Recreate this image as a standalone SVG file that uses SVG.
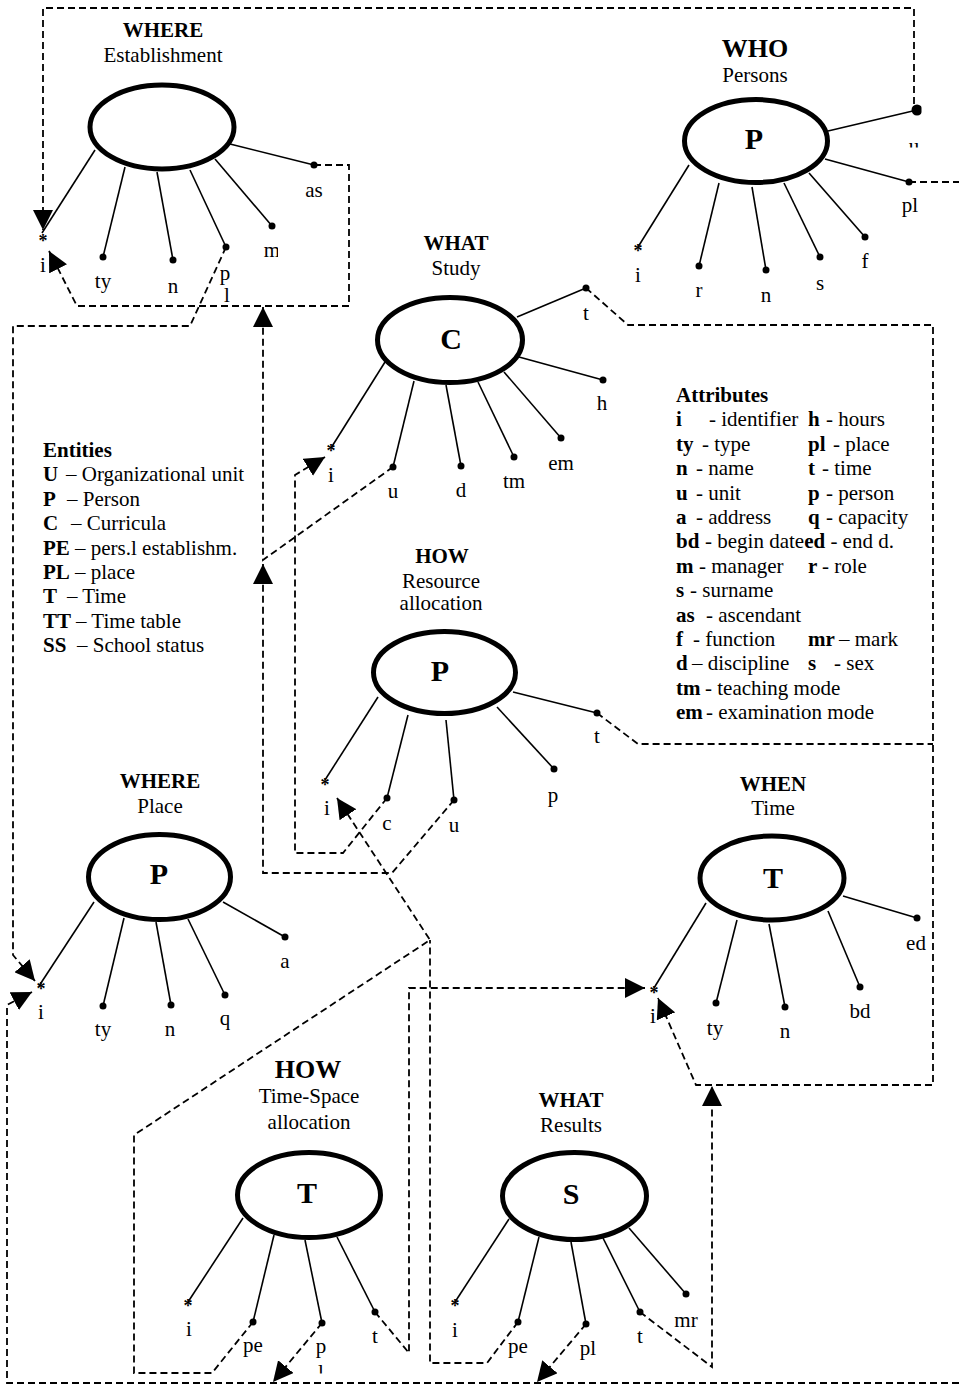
<svg xmlns="http://www.w3.org/2000/svg" width="959" height="1387" viewBox="0 0 959 1387">
<style>
  text { font-family: "Liberation Serif", "Times New Roman", serif; fill: #000; }
  .ent { fill: none; stroke: #000; stroke-width: 5; }
  .spk { stroke: #000; stroke-width: 1.6; fill: none; }
  .dot { fill: #000; }
  .dash { fill: none; stroke: #000; stroke-width: 1.8; stroke-dasharray: 7 4; }
  .lbl { font-size: 21px; text-anchor: middle; }
  .ttl { font-size: 21px; font-weight: bold; text-anchor: middle; }
  .big { font-size: 26px; font-weight: bold; text-anchor: middle; }
  .code { font-size: 30px; font-weight: bold; text-anchor: middle; }
  .ast { font-size: 18px; font-weight: bold; text-anchor: middle; }
  .leg { font-size: 21px; }
  .b { font-weight: bold; }
</style>
<defs>
  <marker id="arrow" markerUnits="userSpaceOnUse" markerWidth="20" markerHeight="20" refX="20" refY="10" orient="auto">
    <path d="M0,0 L20,10 L0,20 Z" fill="#000" stroke="none"/>
  </marker>
  <clipPath id="clipM"><rect x="250" y="230" width="28" height="40"/></clipPath>
  <clipPath id="clipU"><rect x="890" y="120" width="40" height="27.5"/></clipPath>
  <clipPath id="clipDotU"><rect x="900" y="95" width="21.5" height="30"/></clipPath>
  <clipPath id="clipL"><rect x="300" y="1355" width="40" height="18.5"/></clipPath>
</defs>

<rect width="959" height="1387" fill="#fff"/>

<!-- connectors -->
<g id="connectors">
  <!-- Persons.u to Establishment.i -->
  <path class="dash" d="M914,104 V8 H43 V230" marker-end="url(#arrow)"/>
  <!-- Establishment.as to Establishment.i -->
  <path class="dash" d="M314,165 H349 V306 H77 L49,251" marker-end="url(#arrow)"/>
  <!-- Establishment.pl to Place.i -->
  <path class="dash" d="M226,247 L190,326 H13 V955 L35,981" marker-end="url(#arrow)"/>
  <!-- bottom bus to Place.i -->
  <path class="dash" d="M959,1383 H7 V1005 L32,992" marker-end="url(#arrow)"/>
  <!-- Time-Space.p and Results.pl to bottom bus -->
  <path class="dash" d="M322,1323 L273,1382" marker-end="url(#arrow)"/>
  <path class="dash" d="M586,1324 L537,1382" marker-end="url(#arrow)"/>
  <!-- Persons.pl -->
  <path class="dash" d="M909,182 H959"/>
  <!-- Study.u to Establishment -->
  <path class="dash" d="M393,467 L263,560 V307" marker-end="url(#arrow)"/>
  <!-- Resource.u to Study.u line -->
  <path class="dash" d="M454,800 L392,873 H263 V564" marker-end="url(#arrow)"/>
  <!-- Resource.c to Study.i -->
  <path class="dash" d="M387,798 L343,853 H295 V475 L325,457" marker-end="url(#arrow)"/>
  <!-- Time-Space.pe to Resource.i -->
  <path class="dash" d="M253,1322 L212,1373 H134 V1135 L430,940 L337,798" marker-end="url(#arrow)"/>
  <!-- Results.pe -->
  <path class="dash" d="M518,1322 L487,1363 H430 V940"/>
  <!-- Time-Space.t to Time.i -->
  <path class="dash" d="M375,1312 L409,1353 V988 H645" marker-end="url(#arrow)"/>
  <!-- Results.t to Time.i line -->
  <path class="dash" d="M640,1312 L712,1367 V1086" marker-end="url(#arrow)"/>
  <!-- Study.t to Time.i -->
  <path class="dash" d="M586,288 L628,325 H933 V1085 H696 L658,998" marker-end="url(#arrow)"/>
  <!-- Resource.t -->
  <path class="dash" d="M597,713 L638,744 H933"/>
</g>

<!-- WHERE Establishment -->
<g id="n-establishment">
  <text class="ttl" x="163" y="36.5">WHERE</text>
  <text class="lbl" x="163" y="61.5">Establishment</text>
  <ellipse class="ent" cx="162" cy="127" rx="72" ry="42"/>
  <line class="spk" x1="95" y1="150" x2="42" y2="233"/>
  <line class="spk" x1="125" y1="167" x2="103" y2="257"/>
  <line class="spk" x1="157" y1="172" x2="173" y2="260"/>
  <line class="spk" x1="190" y1="170" x2="226" y2="247"/>
  <line class="spk" x1="215" y1="159" x2="272" y2="226"/>
  <line class="spk" x1="230" y1="144" x2="314" y2="165"/>
  <circle class="dot" cx="103" cy="257" r="3.5"/>
  <circle class="dot" cx="173" cy="260" r="3.5"/>
  <circle class="dot" cx="226" cy="247" r="3.5"/>
  <circle class="dot" cx="272" cy="226" r="3.5"/>
  <circle class="dot" cx="314" cy="165" r="3.5"/>
  <text class="ast" x="43" y="247">*</text>
  <text class="lbl" x="43" y="272">i</text>
  <text class="lbl" x="103" y="288">ty</text>
  <text class="lbl" x="173" y="293">n</text>
  <text class="lbl" x="225" y="280">p</text>
  <text class="lbl" x="227" y="302">l</text>
  <text class="lbl" x="272" y="257" clip-path="url(#clipM)">m</text>
  <text class="lbl" x="314" y="197">as</text>
</g>

<!-- WHO Persons -->
<g id="n-persons">
  <text class="big" x="755" y="57">WHO</text>
  <text class="lbl" x="755" y="82">Persons</text>
  <ellipse class="ent" cx="756" cy="141" rx="71.5" ry="41.5"/>
  <text class="code" x="754" y="149">P</text>
  <line class="spk" x1="828" y1="131" x2="917" y2="110"/>
  <line class="spk" x1="825" y1="159" x2="909" y2="182"/>
  <line class="spk" x1="689" y1="165" x2="638" y2="247"/>
  <line class="spk" x1="719" y1="183" x2="699" y2="266"/>
  <line class="spk" x1="752" y1="187" x2="766" y2="270"/>
  <line class="spk" x1="784" y1="183" x2="820" y2="257"/>
  <line class="spk" x1="809" y1="173" x2="865" y2="237"/>
  <circle class="dot" cx="917" cy="110" r="5.5" clip-path="url(#clipDotU)"/>
  <circle class="dot" cx="909" cy="182" r="3.5"/>
  <circle class="dot" cx="699" cy="266" r="3.5"/>
  <circle class="dot" cx="766" cy="270" r="3.5"/>
  <circle class="dot" cx="820" cy="257" r="3.5"/>
  <circle class="dot" cx="865" cy="237" r="3.5"/>
  <text class="ast" x="638" y="257">*</text>
  <text class="lbl" x="914" y="153" clip-path="url(#clipU)">u</text>
  <text class="lbl" x="910" y="212">pl</text>
  <text class="lbl" x="638" y="282">i</text>
  <text class="lbl" x="699" y="297">r</text>
  <text class="lbl" x="766" y="302">n</text>
  <text class="lbl" x="820" y="290">s</text>
  <text class="lbl" x="865" y="268">f</text>
</g>

<!-- WHAT Study -->
<g id="n-study">
  <text class="ttl" x="456" y="250">WHAT</text>
  <text class="lbl" x="456" y="275">Study</text>
  <ellipse class="ent" cx="450" cy="340" rx="72.5" ry="42.5"/>
  <text class="code" x="451" y="349">C</text>
  <line class="spk" x1="517" y1="317" x2="586" y2="288"/>
  <line class="spk" x1="519" y1="357" x2="603" y2="380"/>
  <line class="spk" x1="504" y1="372" x2="561" y2="438"/>
  <line class="spk" x1="478" y1="382" x2="514" y2="457"/>
  <line class="spk" x1="446" y1="385" x2="461" y2="466"/>
  <line class="spk" x1="414" y1="381" x2="393" y2="467"/>
  <line class="spk" x1="385" y1="362" x2="331" y2="448"/>
  <circle class="dot" cx="586" cy="288" r="3.5"/>
  <circle class="dot" cx="603" cy="380" r="3.5"/>
  <circle class="dot" cx="561" cy="438" r="3.5"/>
  <circle class="dot" cx="514" cy="457" r="3.5"/>
  <circle class="dot" cx="461" cy="466" r="3.5"/>
  <circle class="dot" cx="393" cy="467" r="3.5"/>
  <text class="ast" x="331" y="457">*</text>
  <text class="lbl" x="586" y="320">t</text>
  <text class="lbl" x="602" y="410">h</text>
  <text class="lbl" x="561" y="470">em</text>
  <text class="lbl" x="514" y="488">tm</text>
  <text class="lbl" x="461" y="497">d</text>
  <text class="lbl" x="393" y="498">u</text>
  <text class="lbl" x="331" y="482">i</text>
</g>

<!-- HOW Resource allocation -->
<g id="n-resource">
  <text class="ttl" x="442" y="563">HOW</text>
  <text class="lbl" x="441" y="588">Resource</text>
  <text class="lbl" x="441" y="610">allocation</text>
  <ellipse class="ent" cx="444.5" cy="672.5" rx="71" ry="41"/>
  <text class="code" x="440" y="681">P</text>
  <line class="spk" x1="378" y1="697" x2="325" y2="780"/>
  <line class="spk" x1="408" y1="715" x2="387" y2="798"/>
  <line class="spk" x1="446" y1="720" x2="454" y2="800"/>
  <line class="spk" x1="497" y1="707" x2="554" y2="769"/>
  <line class="spk" x1="513" y1="692" x2="597" y2="713"/>
  <circle class="dot" cx="387" cy="798" r="3.5"/>
  <circle class="dot" cx="454" cy="800" r="3.5"/>
  <circle class="dot" cx="554" cy="769" r="3.5"/>
  <circle class="dot" cx="597" cy="713" r="3.5"/>
  <text class="ast" x="325" y="791">*</text>
  <text class="lbl" x="327" y="815">i</text>
  <text class="lbl" x="387" y="830">c</text>
  <text class="lbl" x="454" y="832">u</text>
  <text class="lbl" x="553" y="802">p</text>
  <text class="lbl" x="597" y="743">t</text>
</g>

<!-- WHERE Place -->
<g id="n-place">
  <text class="ttl" x="160" y="788">WHERE</text>
  <text class="lbl" x="160" y="813">Place</text>
  <ellipse class="ent" cx="159.5" cy="877" rx="71" ry="42.5"/>
  <text class="code" x="159" y="884">P</text>
  <line class="spk" x1="94" y1="902" x2="39" y2="986"/>
  <line class="spk" x1="124" y1="918" x2="103" y2="1006"/>
  <line class="spk" x1="156" y1="922" x2="171" y2="1005"/>
  <line class="spk" x1="188" y1="919" x2="225" y2="995"/>
  <line class="spk" x1="223" y1="902" x2="285" y2="937"/>
  <circle class="dot" cx="103" cy="1006" r="3.5"/>
  <circle class="dot" cx="171" cy="1005" r="3.5"/>
  <circle class="dot" cx="225" cy="995" r="3.5"/>
  <circle class="dot" cx="285" cy="937" r="3.5"/>
  <text class="ast" x="41" y="995">*</text>
  <text class="lbl" x="41" y="1019">i</text>
  <text class="lbl" x="103" y="1036">ty</text>
  <text class="lbl" x="170" y="1036">n</text>
  <text class="lbl" x="225" y="1025">q</text>
  <text class="lbl" x="285" y="968">a</text>
</g>

<!-- WHEN Time -->
<g id="n-time">
  <text class="ttl" x="773" y="791">WHEN</text>
  <text class="lbl" x="773" y="815">Time</text>
  <ellipse class="ent" cx="772" cy="878" rx="72" ry="42"/>
  <text class="code" x="773" y="888">T</text>
  <line class="spk" x1="706" y1="903" x2="654" y2="988"/>
  <line class="spk" x1="737" y1="920" x2="716" y2="1003"/>
  <line class="spk" x1="769" y1="924" x2="785" y2="1007"/>
  <line class="spk" x1="828" y1="911" x2="860" y2="987"/>
  <line class="spk" x1="843" y1="896" x2="917" y2="918"/>
  <circle class="dot" cx="716" cy="1003" r="3.5"/>
  <circle class="dot" cx="785" cy="1007" r="3.5"/>
  <circle class="dot" cx="860" cy="987" r="3.5"/>
  <circle class="dot" cx="917" cy="918" r="3.5"/>
  <text class="ast" x="654" y="999">*</text>
  <text class="lbl" x="653" y="1023">i</text>
  <text class="lbl" x="715" y="1035">ty</text>
  <text class="lbl" x="785" y="1038">n</text>
  <text class="lbl" x="860" y="1018">bd</text>
  <text class="lbl" x="916" y="950">ed</text>
</g>

<!-- HOW Time-Space allocation -->
<g id="n-timespace">
  <text class="big" x="308" y="1078">HOW</text>
  <text class="lbl" x="309" y="1103">Time-Space</text>
  <text class="lbl" x="309" y="1129">allocation</text>
  <ellipse class="ent" cx="309" cy="1195" rx="71.5" ry="42.5"/>
  <text class="code" x="307" y="1203">T</text>
  <line class="spk" x1="243" y1="1218" x2="188" y2="1302"/>
  <line class="spk" x1="274" y1="1235" x2="253" y2="1322"/>
  <line class="spk" x1="305" y1="1240" x2="322" y2="1323"/>
  <line class="spk" x1="337" y1="1237" x2="375" y2="1312"/>
  <circle class="dot" cx="253" cy="1322" r="3.5"/>
  <circle class="dot" cx="322" cy="1323" r="3.5"/>
  <circle class="dot" cx="375" cy="1312" r="3.5"/>
  <text class="ast" x="188" y="1312">*</text>
  <text class="lbl" x="189" y="1336">i</text>
  <text class="lbl" x="253" y="1352">pe</text>
  <text class="lbl" x="321" y="1353">p</text>
  <text class="lbl" x="321" y="1379" clip-path="url(#clipL)">l</text>
  <text class="lbl" x="375" y="1343">t</text>
</g>

<!-- WHAT Results -->
<g id="n-results">
  <text class="ttl" x="571" y="1107">WHAT</text>
  <text class="lbl" x="571" y="1132">Results</text>
  <ellipse class="ent" cx="574.5" cy="1196" rx="72" ry="43.5"/>
  <text class="code" x="571" y="1204">S</text>
  <line class="spk" x1="509" y1="1219" x2="455" y2="1302"/>
  <line class="spk" x1="539" y1="1237" x2="518" y2="1322"/>
  <line class="spk" x1="571" y1="1242" x2="586" y2="1324"/>
  <line class="spk" x1="603" y1="1238" x2="640" y2="1312"/>
  <line class="spk" x1="629" y1="1228" x2="686" y2="1294"/>
  <circle class="dot" cx="518" cy="1322" r="3.5"/>
  <circle class="dot" cx="586" cy="1324" r="3.5"/>
  <circle class="dot" cx="640" cy="1312" r="3.5"/>
  <circle class="dot" cx="686" cy="1294" r="3.5"/>
  <text class="ast" x="455" y="1312">*</text>
  <text class="lbl" x="455" y="1337">i</text>
  <text class="lbl" x="518" y="1353">pe</text>
  <text class="lbl" x="588" y="1355">pl</text>
  <text class="lbl" x="640" y="1343">t</text>
  <text class="lbl" x="686" y="1327">mr</text>
</g>

<!-- Entities legend -->
<g id="legend-entities" class="leg">
  <text x="43" y="457" class="b">Entities</text>
  <text y="481.4"><tspan x="43" class="b">U</tspan><tspan x="66">– Organizational unit</tspan></text>
  <text y="505.8"><tspan x="43" class="b">P</tspan><tspan x="67">– Person</tspan></text>
  <text y="530.2"><tspan x="43" class="b">C</tspan><tspan x="71">– Curricula</tspan></text>
  <text y="554.6"><tspan x="43" class="b">PE</tspan><tspan x="75">– pers.l establishm.</tspan></text>
  <text y="579"><tspan x="43" class="b">PL</tspan><tspan x="75">– place</tspan></text>
  <text y="603.4"><tspan x="43" class="b">T</tspan><tspan x="67">– Time</tspan></text>
  <text y="627.8"><tspan x="43" class="b">TT</tspan><tspan x="76">– Time table</tspan></text>
  <text y="652.2"><tspan x="43" class="b">SS</tspan><tspan x="77">– School status</tspan></text>
</g>

<!-- Attributes legend -->
<g id="legend-attributes" class="leg">
  <text x="676" y="402" class="b">Attributes</text>
  <text y="426.4"><tspan x="676" class="b">i</tspan><tspan x="709">- identifier</tspan><tspan x="808" class="b">h</tspan><tspan x="826">- hours</tspan></text>
  <text y="450.8"><tspan x="676" class="b">ty</tspan><tspan x="702">- type</tspan><tspan x="808" class="b">pl</tspan><tspan x="833">- place</tspan></text>
  <text y="475.2"><tspan x="676" class="b">n</tspan><tspan x="696">- name</tspan><tspan x="808" class="b">t</tspan><tspan x="822">- time</tspan></text>
  <text y="499.6"><tspan x="676" class="b">u</tspan><tspan x="696">- unit</tspan><tspan x="808" class="b">p</tspan><tspan x="826">- person</tspan></text>
  <text y="524"><tspan x="676" class="b">a</tspan><tspan x="696">- address</tspan><tspan x="808" class="b">q</tspan><tspan x="826">- capacity</tspan></text>
  <text y="548.4"><tspan x="676" class="b">bd</tspan><tspan x="705">- begin date</tspan><tspan class="b">ed</tspan><tspan> - end d.</tspan></text>
  <text y="572.8"><tspan x="676" class="b">m</tspan><tspan x="699">- manager</tspan><tspan x="808" class="b">r</tspan><tspan x="822">- role</tspan></text>
  <text y="597.2"><tspan x="676" class="b">s</tspan><tspan x="690">- surname</tspan></text>
  <text y="621.6"><tspan x="676" class="b">as</tspan><tspan x="706">- ascendant</tspan></text>
  <text y="646"><tspan x="676" class="b">f</tspan><tspan x="693">- function</tspan><tspan x="808" class="b">mr</tspan><tspan x="839">– mark</tspan></text>
  <text y="670.4"><tspan x="676" class="b">d</tspan><tspan x="692">– discipline</tspan><tspan x="808" class="b">s</tspan><tspan x="834">- sex</tspan></text>
  <text y="694.8"><tspan x="676" class="b">tm</tspan><tspan x="705">- teaching mode</tspan></text>
  <text y="719.2"><tspan x="676" class="b">em</tspan><tspan x="706">- examination mode</tspan></text>
</g>
</svg>
